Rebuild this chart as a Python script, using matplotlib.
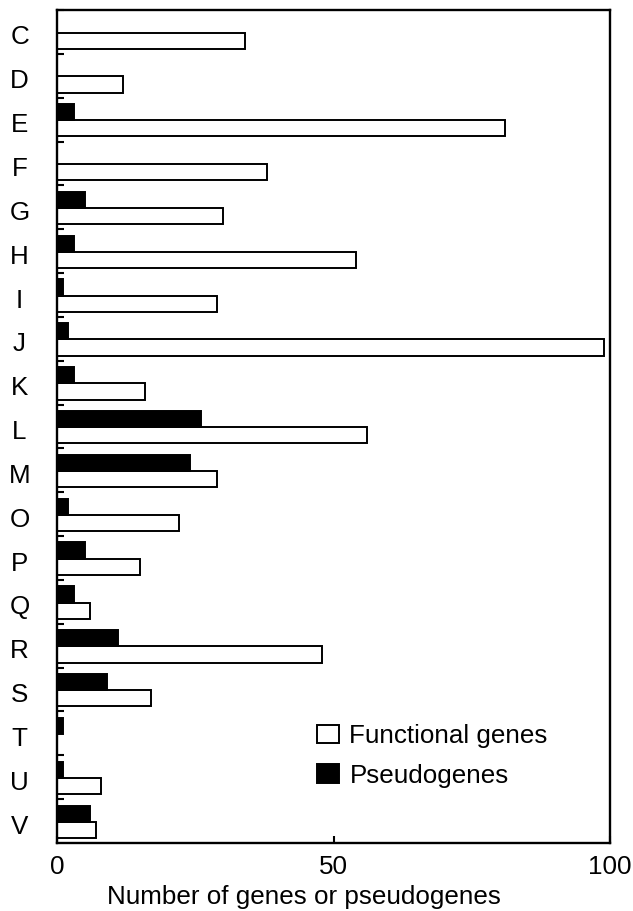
import numpy as np
import matplotlib.pyplot as plt

plt.rcParams['font.family'] = ['Liberation Sans', 'DejaVu Sans']

# COG categories and counts
categories = ['C', 'D', 'E', 'F', 'G', 'H', 'I', 'J', 'K', 'L',
              'M', 'O', 'P', 'Q', 'R', 'S', 'T', 'U', 'V']
functional = [34, 12, 81, 38, 30, 54, 29, 99, 16, 56,
              29, 22, 15, 6, 48, 17, 0, 8, 7]
pseudo = [0, 0, 3, 0, 5, 3, 1, 2, 3, 26,
          24, 2, 5, 3, 11, 9, 1, 1, 6]
xticks = [0, 50, 100]

fs = 18.7

fig = plt.figure(figsize=(6.33, 9.11), dpi=100)
ax = fig.add_axes([57 / 633, 1 - 843 / 911, (610 - 57) / 633, (843 - 10) / 911])

pos = np.arange(len(categories))
h = 0.37
ax.barh(pos + 0.2, functional, height=h, color='white', edgecolor='black',
        linewidth=1.4, label='Functional genes')
ax.barh(pos - 0.17, pseudo, height=h, color='black', edgecolor='black',
        linewidth=1.4, label='Pseudogenes')

ax.set_xlim(0, 100)
ax.set_ylim(len(categories) - 0.5, -0.5)

# category labels, slightly below group centre
ax.set_yticks(pos + 0.07)
ax.set_yticklabels(categories, fontsize=fs)
ax.tick_params(axis='y', which='major', length=0, pad=27)
for lab in ax.get_yticklabels():
    lab.set_horizontalalignment('center')
# small inward ticks at group boundaries
ax.set_yticks(pos - 0.5, minor=True)
ax.tick_params(axis='y', which='minor', direction='in', length=5, width=1.5)

ax.set_xticks(xticks)
ax.set_xticklabels([str(t) for t in xticks], fontsize=fs)
ax.tick_params(axis='x', direction='in', length=5, width=1.5, pad=9)
ax.set_xlabel('Number of genes or pseudogenes', fontsize=fs)
ax.xaxis.set_label_coords(0.447, -0.051)

for s in ax.spines.values():
    s.set_linewidth(1.7)

ax.legend(loc='upper left', bbox_to_anchor=(317 / 633, 1 - 724 / 911),
          bbox_transform=fig.transFigure, frameon=False, fontsize=fs,
          handlelength=0.85, handleheight=0.7, handletextpad=0.4,
          labelspacing=0.6, borderpad=0, borderaxespad=0)

fig.savefig('out.png', dpi=100)
